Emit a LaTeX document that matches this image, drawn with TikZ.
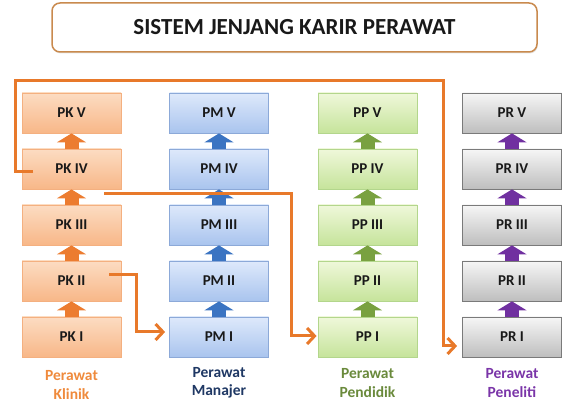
\documentclass[tikz,border=0pt]{standalone}
\usepackage{fontspec}
\setmainfont{Carlito}
\usetikzlibrary{arrows.meta,shadows}
\definecolor{conn}{HTML}{E8792A}
\definecolor{pktop}{HTML}{FCDCC2}
\definecolor{pkbot}{HTML}{F8B788}
\definecolor{pkbd}{HTML}{F4B080}
\definecolor{pkarr}{HTML}{EC7C30}
\definecolor{pmtop}{HTML}{DEE9FB}
\definecolor{pmbot}{HTML}{A9C4EE}
\definecolor{pmbd}{HTML}{8CA9D8}
\definecolor{pmarr}{HTML}{3B74C2}
\definecolor{pptop}{HTML}{EFF8DA}
\definecolor{ppbot}{HTML}{C6E49B}
\definecolor{ppbd}{HTML}{B3D68C}
\definecolor{pparr}{HTML}{79A140}
\definecolor{prtop}{HTML}{F6F6F6}
\definecolor{prbot}{HTML}{BEBEBE}
\definecolor{prbd}{HTML}{7A7A7A}
\definecolor{prarr}{HTML}{7030A0}
\definecolor{lkl}{HTML}{EF8A3C}
\definecolor{lma}{HTML}{1F3864}
\definecolor{lpe}{HTML}{6A8A3C}
\definecolor{lpr}{HTML}{7A35A8}
\definecolor{titlebd}{HTML}{C98A4E}
\tikzset{
  box/.style={draw, line width=0.8pt, minimum width=99pt, minimum height=40pt,
    font=\bfseries\fontsize{15}{17}\selectfont, text=black!90,
    drop shadow={shadow xshift=0.8pt, shadow yshift=-1.5pt, opacity=0.25}},
  pkbox/.style={box, draw=pkbd, top color=pktop, bottom color=pkbot},
  pmbox/.style={box, draw=pmbd, top color=pmtop, bottom color=pmbot},
  ppbox/.style={box, draw=ppbd, top color=pptop, bottom color=ppbot},
  prbox/.style={box, draw=prbd, top color=prtop, bottom color=prbot},
  uparr/.style={draw=#1, line width=14pt, -{Triangle[width=29pt,length=9pt]}},
  link/.style={draw=conn, line width=3pt, -{Straight Barb[length=7.5pt,width=16pt]}},
  lbl/.style={align=center, font=\bfseries\fontsize{15.5}{18.5}\selectfont},
  titlebox/.style={draw=titlebd, line width=1.5pt, rounded corners=8pt, fill=white,
    minimum width=485pt, minimum height=49pt,
    font=\bfseries\fontsize{23}{26}\selectfont, text=black!90,
    drop shadow={shadow xshift=0.8pt, shadow yshift=-1.5pt, opacity=0.2}}
}
\begin{document}
\begin{tikzpicture}[x=1pt,y=-1pt]
\useasboundingbox (0,0) rectangle (566,409);
\node[titlebox] (title) at (294.5,27.5) {SISTEM JENJANG KARIR PERAWAT};

% columns
\foreach \n/\t/\y in {1/I/337,2/II/281,3/III/225,4/IV/169,5/V/113}{
  \node[pkbox] (pk\n) at (71.5,\y) {PK \t};
  \node[pmbox] (pm\n) at (219,\y) {PM \t};
  \node[ppbox] (pp\n) at (367.5,\y) {PP \t};
  \node[prbox] (pr\n) at (512,\y) {PR \t};
}
\foreach \a/\b in {1/2,2/3,3/4,4/5}{
  \draw[uparr=pkarr] (pk\a.north) -- (pk\b.south);
  \draw[uparr=pmarr] (pm\a.north) -- (pm\b.south);
  \draw[uparr=pparr] (pp\a.north) -- (pp\b.south);
  \draw[uparr=prarr] (pr\a.north) -- (pr\b.south);
}

% labels
\node[lbl, text=lkl] (lk) at (71.5,385) {Perawat\\Klinik};
\node[lbl, text=lma] (lm) at (219,383) {Perawat\\Manajer};
\node[lbl, text=lpe] (lp) at (367.5,383) {Perawat\\Pendidik};
\node[lbl, text=lpr] (lr) at (512,383) {Perawat\\Peneliti};

% connectors
\coordinate (a1) at (109,275);
\coordinate (a2) at (104,194);
\coordinate (a3) at (33,172);
\draw[link, shorten >=4pt] (a1) -| (136,332) -- ([yshift=5pt]pm1.west);
\draw[link, shorten >=1pt] (a2) -| (291,336) -- ([yshift=1pt]pp1.west);
\draw[link, shorten >=5pt] (a3) -| (15,81) -| (443,346) -- ([yshift=-9pt]pr1.west);
\end{tikzpicture}
\end{document}
